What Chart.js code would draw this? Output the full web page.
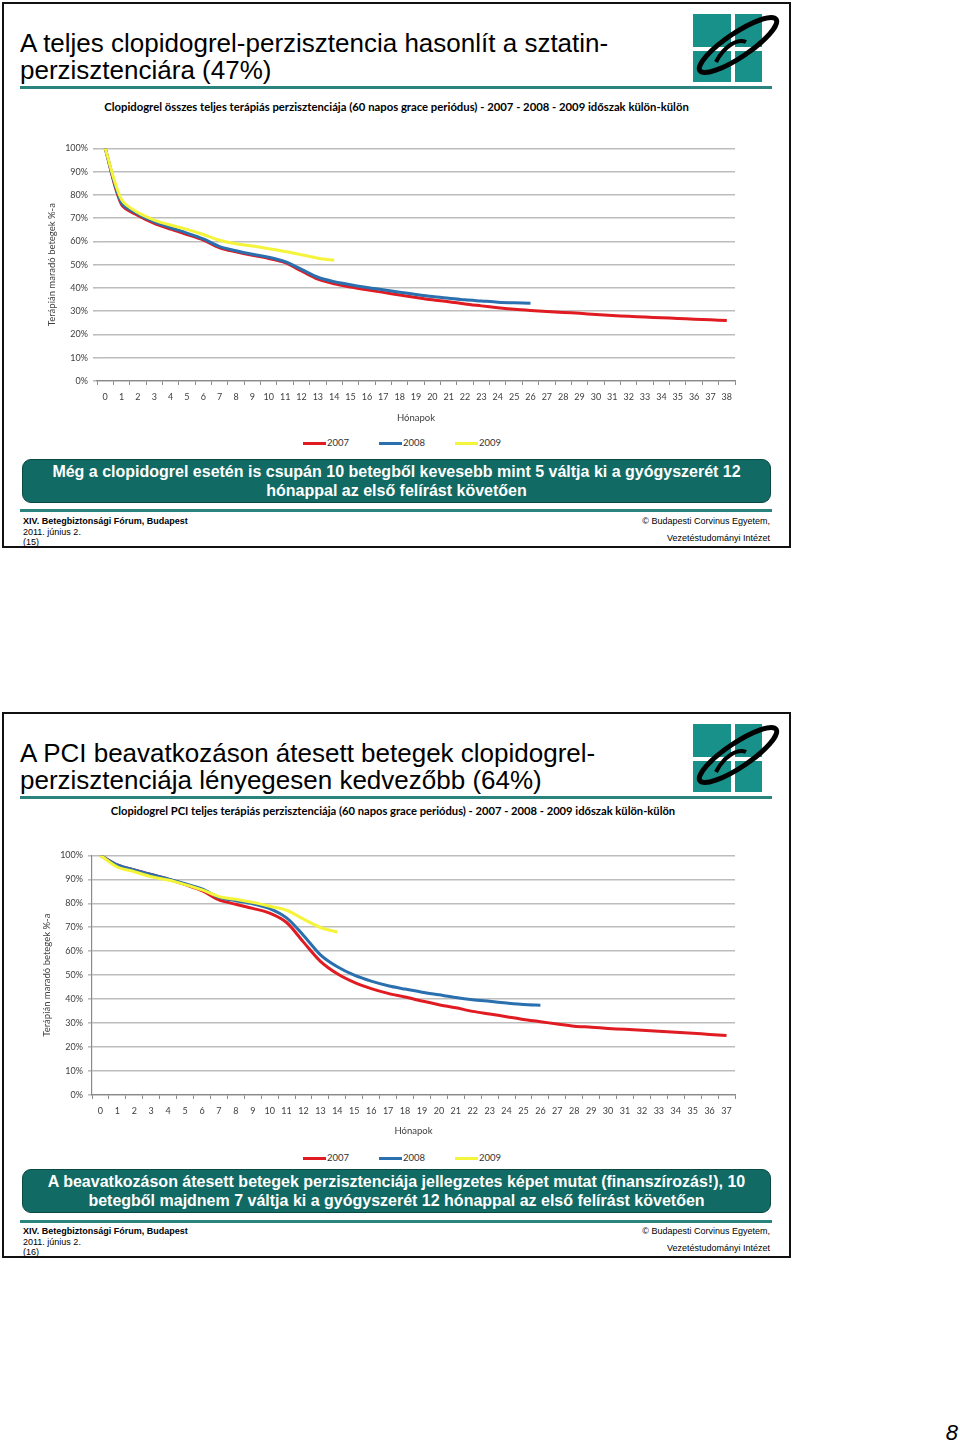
<!DOCTYPE html>
<html lang="hu">
<head>
<meta charset="utf-8">
<title>Clopidogrel perzisztencia</title>
<script src="https://cdn.jsdelivr.net/npm/chart.js@4.4.1/dist/chart.umd.min.js"></script>
<style>
  html, body { margin: 0; padding: 0; background: #fff; }
  body { position: relative; width: 960px; height: 1442px; overflow: hidden; font-family: "Liberation Sans", Arial, sans-serif; color: #000; }
  .slide { position: absolute; left: 2px; width: 785px; height: 542px; border: 2px solid #111; }
  .abs { position: absolute; }
  .title { left: 16px; top: 26px; font-size: 26px; line-height: 27px; white-space: nowrap; }
  .rule { left: 16px; width: 752px; height: 3px; background: #2b837d; }
  .logo { left: 682px; top: 4px; }
  .chartTitle { left: 0; width: 785px; text-align: center; font-family: Lato, sans-serif; font-weight: bold; font-size: 11.3px; line-height: 14px; white-space: nowrap; }
  .legend { display: flex; gap: 30px; font-family: Lato, sans-serif; font-size: 9.5px; line-height: 12px; color: #333; }
  .legend span { display: flex; align-items: center; }
  .legend i { display: inline-block; width: 23px; height: 3px; margin-right: 1px; }
  .callout { left: 18px; width: 747px; height: 42px; border: 1.5px solid #0a4a45; border-radius: 9px; background: #116a63; color: #fff; font-weight: bold; font-size: 16px; line-height: 19.5px; text-align: center; display: flex; flex-direction: column; justify-content: center; }
  .foot { left: 19px; top: 512px; font-size: 9px; line-height: 10.5px; white-space: nowrap; }
  .footR { right: 19px; font-size: 9px; line-height: 10.5px; white-space: nowrap; text-align: right; }
  .pageNo { right: 2px; top: 1420px; font-size: 22px; font-style: italic; }
</style>
</head>
<body>

<div class="slide" style="top:2px;">
  <div class="abs title">A teljes clopidogrel-perzisztencia hasonlít a sztatin-<br>perzisztenciára (47%)</div>
  <svg class="abs logo" width="100" height="80" viewBox="0 0 100 80">
    <rect x="7" y="6" width="38" height="33" fill="#17918a"/>
    <rect x="49" y="6" width="27" height="33" fill="#17918a"/>
    <rect x="7" y="43" width="38" height="31" fill="#17918a"/>
    <rect x="49" y="43" width="27" height="31" fill="#17918a"/>
    <ellipse cx="52" cy="37" rx="46" ry="12" transform="rotate(-34 52 37)" fill="none" stroke="#000" stroke-width="5"/>
    <path d="M30 54 C38 38 52 30 60 34" fill="none" stroke="#000" stroke-width="4"/>
  </svg>
  <div class="abs rule" style="top:82px;"></div>
  <div class="abs chartTitle" style="top:96px;">Clopidogrel összes teljes terápiás perzisztenciája (60 napos grace periódus) - 2007 - 2008 - 2009 időszak külön-külön</div>
  <canvas id="chart1" class="abs" style="left:36px; top:134px;" width="700" height="290"></canvas>
  <div class="abs legend" style="left:299px; top:433px;">
    <span><i style="background:#e01b22"></i>2007</span>
    <span><i style="background:#2a6fae"></i>2008</span>
    <span><i style="background:#f4f43a"></i>2009</span>
  </div>
  <div class="abs callout" style="top:455px;">
    <div>Még a clopidogrel esetén is csupán 10 betegből kevesebb mint 5 váltja ki a gyógyszerét 12</div>
    <div>hónappal az első felírást követően</div>
  </div>
  <div class="abs rule" style="top:505px;"></div>
  <div class="abs foot"><b>XIV. Betegbiztonsági Fórum, Budapest</b><br>2011. június 2.<br>(15)</div>
  <div class="abs footR" style="top:512px;">© Budapesti Corvinus Egyetem,</div>
  <div class="abs footR" style="top:529px;">Vezetéstudományi Intézet</div>
</div>

<div class="slide" style="top:712px;">
  <div class="abs title">A PCI beavatkozáson átesett betegek clopidogrel-<br>perzisztenciája lényegesen kedvezőbb (64%)</div>
  <svg class="abs logo" width="100" height="80" viewBox="0 0 100 80">
    <rect x="7" y="6" width="38" height="33" fill="#17918a"/>
    <rect x="49" y="6" width="27" height="33" fill="#17918a"/>
    <rect x="7" y="43" width="38" height="31" fill="#17918a"/>
    <rect x="49" y="43" width="27" height="31" fill="#17918a"/>
    <ellipse cx="52" cy="37" rx="46" ry="12" transform="rotate(-34 52 37)" fill="none" stroke="#000" stroke-width="5"/>
    <path d="M30 54 C38 38 52 30 60 34" fill="none" stroke="#000" stroke-width="4"/>
  </svg>
  <div class="abs rule" style="top:82px;"></div>
  <div class="abs chartTitle" style="top:90px; width:778px; font-size:11.2px;">Clopidogrel PCI teljes terápiás perzisztenciája (60 napos grace periódus) - 2007 - 2008 - 2009 időszak külön-külön</div>
  <canvas id="chart2" class="abs" style="left:32px; top:131px;" width="704" height="296"></canvas>
  <div class="abs legend" style="left:299px; top:438px;">
    <span><i style="background:#e01b22"></i>2007</span>
    <span><i style="background:#2a6fae"></i>2008</span>
    <span><i style="background:#f4f43a"></i>2009</span>
  </div>
  <div class="abs callout" style="top:455px;">
    <div>A beavatkozáson átesett betegek perzisztenciája jellegzetes képet mutat (finanszírozás!), 10</div>
    <div>betegből majdnem 7 váltja ki a gyógyszerét 12 hónappal az első felírást követően</div>
  </div>
  <div class="abs rule" style="top:506px;"></div>
  <div class="abs foot"><b>XIV. Betegbiztonsági Fórum, Budapest</b><br>2011. június 2.<br>(16)</div>
  <div class="abs footR" style="top:512px;">© Budapesti Corvinus Egyetem,</div>
  <div class="abs footR" style="top:529px;">Vezetéstudományi Intézet</div>
</div>

<div class="abs pageNo">8</div>

<script>
'use strict';

// months on the x axis
let months1 = ['0', '1', '2', '3', '4', '5', '6', '7', '8', '9', '10', '11', '12', '13', '14', '15', '16', '17', '18', '19', '20', '21', '22', '23', '24', '25', '26', '27', '28', '29', '30', '31', '32', '33', '34', '35', '36', '37', '38'];
let months2 = ['0', '1', '2', '3', '4', '5', '6', '7', '8', '9', '10', '11', '12', '13', '14', '15', '16', '17', '18', '19', '20', '21', '22', '23', '24', '25', '26', '27', '28', '29', '30', '31', '32', '33', '34', '35', '36', '37'];

let seriesNames = ['2007', '2008', '2009'];

// chart 1 - all clopidogrel patients (% still on therapy)
let all2007 = [100, 75.8, 71.2, 67.8, 65.3, 63, 60.6, 57.3, 55.5, 54, 52.7, 50.9, 47.3, 43.8, 41.8, 40.4, 39.2, 38.1, 37, 35.9, 34.9, 34.1, 33.1, 32.3, 31.5, 30.8, 30.3, 29.9, 29.5, 29.1, 28.6, 28.2, 27.8, 27.5, 27.2, 26.9, 26.6, 26.3, 26];
let all2008 = [100, 76.6, 71.8, 68.4, 65.9, 63.6, 61.1, 57.8, 56, 54.5, 53.2, 51.3, 48, 44.6, 42.7, 41.4, 40.2, 39.2, 38.2, 37.2, 36.3, 35.6, 34.9, 34.4, 33.9, 33.6, 33.4];
let all2009 = [100, 78, 72.4, 69.2, 67, 65.2, 63, 60.5, 59, 58, 56.9, 55.7, 54.3, 52.8, 51.9];

// chart 2 - PCI patients
let pci2007 = [100, 96, 93.9, 92, 90.1, 87.8, 85.3, 81.4, 79.6, 77.9, 75.9, 72, 63.8, 55.8, 50.6, 47, 44.4, 42.4, 40.9, 39.2, 37.7, 36.4, 34.9, 33.8, 32.7, 31.5, 30.6, 29.6, 28.7, 28.3, 27.8, 27.4, 27, 26.6, 26.2, 25.8, 25.3, 24.8];
let pci2008 = [100, 96, 93.9, 92, 90.2, 88.2, 86, 82.5, 81.1, 79.8, 77.8, 73.9, 66.6, 58.5, 53.5, 50, 47.5, 45.6, 44.2, 42.9, 41.8, 40.7, 39.8, 39.1, 38.4, 37.8, 37.5];
let pci2009 = [100, 95.1, 93.2, 91.1, 89.7, 87.8, 85.6, 82.8, 81.7, 80.4, 78.8, 77.1, 73.4, 69.9, 68];

let colors = ['#e01b22', '#2a6fae', '#f4f43a'];

Chart.defaults.font.family = 'Lato, sans-serif';
Chart.defaults.font.size = 9;
Chart.defaults.color = '#404040';

function makeChart(id, labels, data, yWidth, xHeight, yTitlePad, showYBorder) {
  let ctx = document.getElementById(id).getContext('2d');
  let datasets = [];
  for (let i = 0; i < data.length; i++) {
    datasets.push({
      label: seriesNames[i],
      data: data[i],
      borderColor: colors[i],
      backgroundColor: colors[i],
      borderWidth: 3,
      pointRadius: 0,
      tension: 0.3,
      fill: false,
      order: 3 - i
    });
  }
  return new Chart(ctx, {
    type: 'line',
    data: { labels: labels, datasets: datasets },
    options: {
      responsive: false,
      animation: false,
      layout: { padding: { top: 10, right: 5, left: 0, bottom: 0 } },
      plugins: { legend: { display: false }, tooltip: { enabled: false } },
      scales: {
        x: {
          offset: true,
          grid: { offset: true, drawOnChartArea: false, drawTicks: true, tickLength: 4, color: '#8a8a8a' },
          border: { color: '#8a8a8a', width: 1.2 },
          ticks: { padding: 6.5, maxRotation: 0, autoSkip: false, font: { size: 9 } },
          title: { display: true, text: 'Hónapok', font: { size: 9.5 }, padding: { top: 0, bottom: 4 } },
          afterFit: function (scale) { scale.height = xHeight; }
        },
        y: {
          min: 0,
          max: 100,
          ticks: { stepSize: 10, padding: 5, callback: function (v) { return v + '%'; } },
          grid: { color: '#bdbdbd', lineWidth: 1.6, tickLength: 4 },
          border: { display: showYBorder, color: '#8a8a8a', width: 1.2 },
          title: { display: true, text: 'Terápián maradó betegek %-a', font: { size: 9.5 }, padding: { top: yTitlePad, bottom: 0 } },
          afterFit: function (scale) { scale.width = yWidth; }
        }
      }
    }
  });
}

makeChart('chart1', months1, [all2007, all2008, all2009], 57, 47, 6, false);
makeChart('chart2', months2, [pci2007, pci2008, pci2009], 56, 46, 5, true);
</script>
</body>
</html>
